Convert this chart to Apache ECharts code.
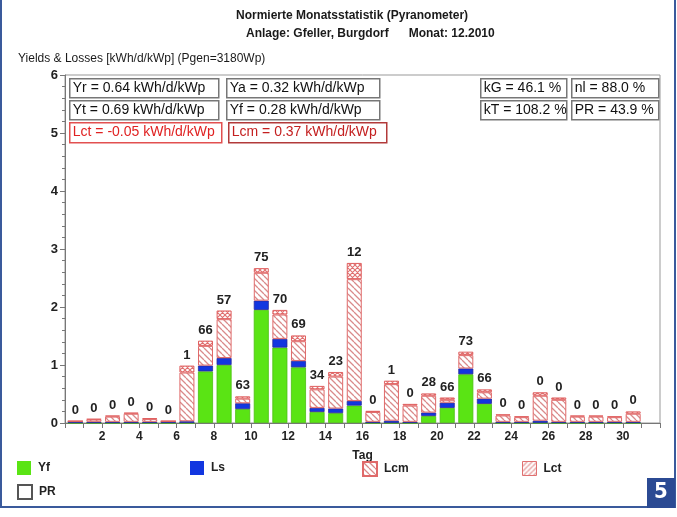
<!DOCTYPE html>
<html>
<head>
<meta charset="utf-8">
<script src="https://cdn.jsdelivr.net/npm/echarts@6/dist/echarts.min.js"></script>
<style>
  html, body { margin: 0; padding: 0; background: #fff; }
  #chart { width: 677px; height: 517px; }
</style>
</head>
<body>
<div id="chart"></div>
<script>
// Daily normalised yields and losses, December 2010 (kWh/d/kWp)
const days = [1,2,3,4,5,6,7,8,9,10,11,12,13,14,15,16,17,18,19,20,21,22,23,24,25,26,27,28,29,30,31];
const yf  = [0,0,0,0,0,0,0,0.89,1.00,0.24,1.95,1.30,0.96,0.19,0.17,0.30,0,0,0,0.12,0.26,0.84,0.33,0,0,0,0,0,0,0,0];
const ls  = [0.03,0.02,0.02,0.02,0.02,0.03,0.03,0.10,0.12,0.10,0.16,0.15,0.11,0.07,0.08,0.08,0.02,0.04,0.02,0.06,0.09,0.10,0.09,0.02,0.02,0.04,0.02,0.02,0.02,0.02,0.02];
const lcm = [0,0.04,0.09,0.14,0.05,0,0.84,0.34,0.67,0.08,0.48,0.42,0.34,0.32,0.55,2.10,0.17,0.63,0.28,0.29,0.05,0.23,0.11,0.11,0.08,0.43,0.38,0.09,0.09,0.08,0.14];
const lct = [0,0.01,0.02,0.02,0.015,0,0.12,0.09,0.15,0.04,0.08,0.08,0.10,0.06,0.08,0.28,0.02,0.06,0.03,0.04,0.04,0.06,0.05,0.02,0.015,0.06,0.04,0.02,0.02,0.015,0.04];
// Performance ratio per day (%)
const pr  = [0,0,0,0,0,0,1,66,57,63,75,70,69,34,23,12,0,1,0,28,66,73,66,0,0,0,0,0,0,0,0];
// Day axis runs from 0 to 32, labelled on even days
const dayTicks = [2,4,6,8,10,12,14,16,18,20,22,24,26,28,30];

const titleLines = ['Normierte Monatsstatistik (Pyranometer)', 'Anlage: Gfeller, Burgdorf      Monat: 12.2010'];
const yAxisTitle = 'Yields & Losses [kWh/d/kWp] (Pgen=3180Wp)';
const summaryLeft  = [['Yr = 0.64 kWh/d/kWp', 'Ya = 0.32 kWh/d/kWp'], ['Yt = 0.69 kWh/d/kWp', 'Yf = 0.28 kWh/d/kWp']];
const summaryRight = [['kG = 46.1 %', 'nl = 88.0 %'], ['kT = 108.2 %', 'PR = 43.9 %']];
const summaryLoss  = ['Lct = -0.05 kWh/d/kWp', 'Lcm = 0.37 kWh/d/kWp'];

const FONT = 'Liberation Sans, Arial, sans-serif';

function hatch(kind, line, size, lw) {
  const c = document.createElement('canvas');
  c.width = c.height = size;
  const g = c.getContext('2d');
  g.fillStyle = '#ffffff';
  g.fillRect(0, 0, size, size);
  g.strokeStyle = line;
  g.lineWidth = lw;
  g.beginPath();
  if (kind === 'back' || kind === 'cross') {
    for (const k of [-size, 0, size]) { g.moveTo(k, 0); g.lineTo(k + size, size); }
  }
  if (kind === 'fwd' || kind === 'cross') {
    for (const k of [0, size, 2 * size]) { g.moveTo(k, 0); g.lineTo(k - size, size); }
  }
  g.stroke();
  return { image: c, repeat: 'repeat' };
}

const lcmFill = hatch('back', '#d98a8a', 6, 1.3);
const lctFill = hatch('cross', '#e07070', 5, 1.1);
const lctLegendFill = hatch('fwd', '#e28a8a', 5, 1.2);

// category slots 0..32 so that each day sits on its own tick
const axisDays = [0].concat(days, [days.length + 1]);
const onAxis = arr => ['-'].concat(arr, ['-']);

const chart = echarts.init(document.getElementById('chart'), null, { renderer: 'canvas' });

function box(x, y, w, h, text, border, color) {
  return {
    type: 'group', left: x, top: y,
    children: [
      { type: 'rect', shape: { x: 0, y: 0, width: w, height: h },
        style: { fill: '#fff', stroke: border, lineWidth: 1.5 } },
      { type: 'text', left: 3, top: 2,
        style: { text: text, fill: color, font: '14px ' + FONT } }
    ]
  };
}

const graphics = [
  // outer blue frame
  { type: 'rect', shape: { x: 1, y: -2, width: 674, height: 509 },
    style: { fill: 'none', stroke: '#3a5a9c', lineWidth: 2 }, z: 10 },
  { type: 'rect', shape: { x: 647, y: 478, width: 28, height: 30 }, style: { fill: '#2b4a93' }, z: 11 },
  { type: 'text', left: 654, top: 481, z: 12,
    style: { text: '5', fill: '#fff', font: 'bold 22px "DejaVu Sans Condensed", ' + FONT } },
  { type: 'text', left: 236, top: 10,
    style: { text: titleLines[0], fill: '#1a1a1a', font: 'bold 12px ' + FONT } },
  { type: 'text', left: 246, top: 28,
    style: { text: titleLines[1], fill: '#1a1a1a', font: 'bold 12px ' + FONT, whiteSpace: 'pre' } },
  { type: 'text', left: 18, top: 53,
    style: { text: yAxisTitle, fill: '#1a1a1a', font: '12px ' + FONT } },
  box(69, 78, 149, 19, summaryLeft[0][0], '#777', '#111'),
  box(226, 78, 153, 19, summaryLeft[0][1], '#777', '#111'),
  box(69, 100, 149, 19, summaryLeft[1][0], '#777', '#111'),
  box(226, 100, 153, 19, summaryLeft[1][1], '#777', '#111'),
  box(480, 78, 86, 19, summaryRight[0][0], '#777', '#111'),
  box(571, 78, 87, 19, summaryRight[0][1], '#777', '#111'),
  box(480, 100, 86, 19, summaryRight[1][0], '#777', '#111'),
  box(571, 100, 87, 19, summaryRight[1][1], '#777', '#111'),
  box(69, 122, 152, 20, summaryLoss[0], '#e25050', '#e02222'),
  box(228, 122, 158, 20, summaryLoss[1], '#b23a3a', '#c42020')
];

function legendAt(name, left, top, itemStyle) {
  const item = { name: name };
  if (itemStyle) item.itemStyle = itemStyle;
  return {
    data: [item], left: left, top: top, orient: 'horizontal',
    icon: 'rect', itemWidth: 14, itemHeight: 14, itemGap: 0,
    textStyle: { fontFamily: FONT, fontSize: 12, fontWeight: 'bold', color: '#222', padding: [0, 0, 0, 2] },
    selectedMode: false, padding: 0
  };
}

const option = {
  animation: false,
  backgroundColor: '#ffffff',
  textStyle: { fontFamily: FONT },
  grid: { left: 65, top: 75, right: 17, bottom: 94, show: true, borderColor: '#999', borderWidth: 1, backgroundColor: 'transparent' },
  legend: [
    legendAt('Yf', 17, 461, { color: '#5ae414', borderColor: '#5ae414', borderWidth: 0 }),
    legendAt('Ls', 190, 461, { color: '#1236e0', borderColor: '#1236e0', borderWidth: 0 }),
    legendAt('Lcm', 362, 461),
    legendAt('Lct', 522, 461, { color: lctLegendFill, borderColor: '#e07070', borderWidth: 1 }),
    legendAt('PR', 17, 484)
  ],
  xAxis: {
    type: 'category', data: axisDays, boundaryGap: false,
    name: 'Tag', nameLocation: 'middle', nameGap: 27,
    nameTextStyle: { fontFamily: FONT, fontSize: 12, fontWeight: 'bold', color: '#222' },
    axisLine: { lineStyle: { color: '#777', width: 1 } },
    axisTick: { show: true, length: 5, interval: 0, lineStyle: { color: '#777' } },
    axisLabel: {
      fontFamily: FONT, fontSize: 12, fontWeight: 'bold', color: '#222', margin: 8, interval: 0,
      formatter: v => dayTicks.indexOf(Number(v)) >= 0 ? String(v) : ''
    },
    splitLine: { show: false }
  },
  yAxis: {
    type: 'value', min: 0, max: 6, interval: 1,
    axisLine: { show: true, lineStyle: { color: '#777', width: 1 } },
    axisTick: { show: true, length: 5, lineStyle: { color: '#777' } },
    minorTick: { show: true, splitNumber: 5, length: 3, lineStyle: { color: '#777' } },
    axisLabel: { fontFamily: FONT, fontSize: 13, fontWeight: 'bold', color: '#222', margin: 7 },
    splitLine: { show: false }
  },
  graphic: graphics,
  series: [
    { name: 'Yf', type: 'bar', stack: 'day', barWidth: 15, data: onAxis(yf),
      itemStyle: { color: '#5ae414', borderColor: '#4bbf10', borderWidth: 0.8 } },
    { name: 'Ls', type: 'bar', stack: 'day', barWidth: 15, data: onAxis(ls),
      itemStyle: { color: '#1236e0', borderColor: '#2a2a9a', borderWidth: 0.8 } },
    { name: 'Lcm', type: 'bar', stack: 'day', barWidth: 15, data: onAxis(lcm),
      itemStyle: { color: lcmFill, borderColor: '#e06a6a', borderWidth: 1 } },
    { name: 'Lct', type: 'bar', stack: 'day', barWidth: 15, data: onAxis(lct),
      itemStyle: { color: lctFill, borderColor: '#e06060', borderWidth: 1 },
      label: {
        show: true, position: 'top', distance: 4,
        fontFamily: FONT, fontSize: 13, fontWeight: 'bold', color: '#222',
        formatter: p => String(pr[p.dataIndex - 1])
      } },
    { name: 'PR', type: 'bar', barWidth: 15, data: [],
      itemStyle: { color: '#ffffff', borderColor: '#555', borderWidth: 1 } }
  ]
};

chart.setOption(option);
</script>
</body>
</html>
